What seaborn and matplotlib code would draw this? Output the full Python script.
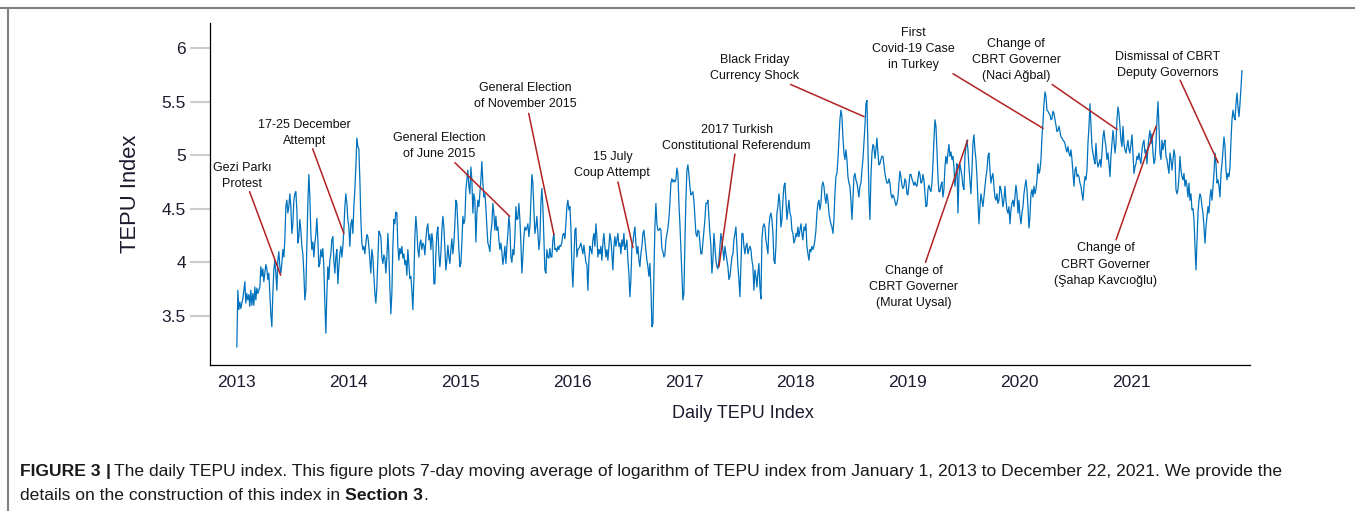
import pandas as pd
import matplotlib
matplotlib.use("Agg")
import matplotlib.pyplot as plt
from matplotlib.lines import Line2D
import seaborn as sns

# log TEPU index (7-day moving average), every ~3.3 days
tepu_p1 = [3.21, 3.74, 3.56, 3.63, 3.57, 3.62, 3.66, 3.74, 3.82, 3.62,
           3.71, 3.65, 3.70, 3.59, 3.74, 3.60, 3.71, 3.60, 3.77, 3.65,
           3.76, 3.71, 3.74, 3.77, 3.96, 3.87, 3.94, 3.82, 3.90, 3.98,
           3.94, 3.84, 3.90, 3.71, 3.52, 3.40, 3.71, 3.93, 4.02, 3.90,
           3.74, 4.02, 4.10, 3.96, 3.90, 3.99, 4.12, 4.05, 4.21, 4.52,
           4.58, 4.46, 4.52, 4.64, 4.52, 4.27, 4.36, 4.58, 4.64, 4.66,
           4.49, 4.18, 4.24, 4.40, 4.30, 4.15, 4.08, 3.90, 3.65, 3.74,
           4.15, 4.55, 4.82, 4.61, 4.27, 4.12, 4.19, 4.05, 4.18, 4.26,
           4.41, 4.21, 3.96, 3.99, 4.12, 4.05, 4.13, 3.96, 3.62, 3.34,
           3.71, 3.96, 3.84, 4.02, 4.08, 4.21, 4.24, 4.02, 3.90, 4.05,
           4.12, 3.80, 3.96, 4.08, 4.15, 4.05, 4.15, 4.30, 4.52, 4.64, 4.55]
tepu_p2 = [4.40, 4.33, 4.15, 4.36, 4.40, 4.27, 4.52, 4.68, 4.89, 5.16,
           5.08, 5.06, 4.77, 4.40, 4.18, 4.12, 4.15, 4.08, 4.18, 4.26,
           4.24, 4.15, 4.02, 3.90, 4.12, 4.05, 3.87, 3.71, 3.62, 3.77,
           4.02, 4.29, 4.27, 4.24, 4.05, 3.99, 4.07, 4.04, 3.90, 4.05,
           4.27, 4.08, 3.77, 3.52, 3.71, 4.15, 4.40, 4.36, 4.47, 4.46,
           4.15, 4.02, 4.13, 4.08, 4.15, 4.04, 4.08, 3.98, 4.02, 3.88,
           4.12, 3.99, 3.85, 3.87, 3.74, 3.56, 3.84, 4.24, 4.43, 4.30,
           4.12, 4.05, 4.18, 4.21, 4.12, 4.18, 4.16, 4.07, 4.21, 4.32,
           4.36, 4.21, 4.26, 4.12, 4.27, 4.19, 3.80, 3.80, 4.08, 4.27,
           4.33, 4.08, 3.96, 4.08, 4.30, 4.43, 4.33, 4.12, 3.93, 4.02,
           4.16, 4.05, 3.99, 4.12, 4.22, 4.08, 4.18, 4.36, 4.58, 4.55,
           4.33, 4.12, 3.96, 3.99, 4.18, 4.43, 4.36, 4.40, 4.68, 4.77]
tepu_p3 = [4.86, 4.71, 4.64, 4.89, 4.77, 4.46, 4.64, 4.58, 4.19, 4.46,
           4.58, 4.52, 4.64, 4.77, 4.94, 4.74, 4.61, 4.64, 4.52, 4.33,
           4.18, 4.15, 4.10, 4.27, 4.36, 4.55, 4.46, 4.30, 4.43, 4.30,
           4.33, 4.21, 4.12, 4.18, 4.10, 3.98, 4.05, 4.15, 3.99, 4.15,
           4.27, 4.43, 4.33, 4.05, 4.00, 4.12, 4.07, 4.24, 4.52, 4.40,
           4.41, 4.55, 4.40, 4.18, 3.90, 4.05, 4.24, 4.33, 4.30, 4.32,
           4.36, 4.24, 4.33, 4.58, 4.82, 4.74, 4.49, 4.27, 4.33, 4.43,
           4.27, 4.12, 4.21, 4.55, 4.69, 4.52, 4.24, 3.93, 3.90, 4.12,
           4.05, 4.04, 4.13, 4.05, 4.05, 4.21, 4.27, 4.12, 4.13, 4.10,
           4.15, 4.12, 4.16, 4.15, 4.19, 4.26, 4.27, 4.22, 4.36, 4.52,
           4.58, 4.49, 4.52, 4.33, 3.96, 3.77, 4.02, 4.30, 4.32, 4.05,
           4.12, 4.13, 4.15, 4.18, 4.13, 4.08, 4.16, 4.08, 4.00, 3.98]
tepu_p4 = [3.74, 4.02, 4.15, 4.12, 4.08, 4.21, 4.27, 4.15, 4.36, 4.24,
           4.05, 4.12, 4.08, 4.15, 4.02, 4.18, 4.27, 4.15, 4.05, 4.12,
           4.02, 4.15, 4.27, 4.21, 4.08, 3.93, 4.15, 4.24, 4.15, 4.21,
           4.27, 4.15, 4.18, 4.08, 4.21, 4.15, 4.27, 4.12, 4.15, 4.21,
           4.02, 3.90, 3.68, 3.84, 4.15, 4.18, 4.27, 4.33, 4.18, 4.08,
           4.15, 4.02, 3.96, 4.08, 4.15, 4.27, 4.30, 4.21, 4.12, 4.02,
           3.96, 3.87, 3.99, 3.77, 3.40, 3.43, 3.87, 4.33, 4.55, 4.36,
           4.30, 4.30, 4.32, 4.30, 4.13, 4.10, 4.05, 4.07, 4.21, 4.26,
           4.32, 4.41, 4.55, 4.74, 4.78, 4.75, 4.77, 4.75, 4.77, 4.88,
           4.83, 4.55, 4.36, 4.12, 3.87, 3.65, 3.71, 4.18, 4.58, 4.86,
           4.91, 4.82, 4.71, 4.63, 4.64, 4.66, 4.58, 4.43, 4.27, 4.24,
           4.30, 4.29, 4.18, 4.08, 4.08, 4.19, 4.30, 4.40, 4.55, 4.55]
tepu_p5 = [4.58, 4.43, 4.27, 4.15, 3.90, 4.02, 4.27, 4.15, 4.02, 3.96,
           3.94, 4.02, 4.15, 4.27, 4.21, 4.12, 4.02, 4.15, 4.08, 4.02,
           3.96, 3.84, 3.87, 3.96, 4.05, 4.08, 4.21, 4.27, 4.33, 4.15,
           3.96, 3.84, 3.68, 3.96, 4.27, 4.27, 4.15, 4.08, 4.15, 4.18,
           4.08, 4.12, 4.15, 4.12, 4.02, 3.96, 3.74, 3.93, 3.87, 3.77,
           3.90, 3.99, 3.77, 3.66, 4.21, 4.33, 4.36, 4.33, 4.21, 4.15,
           4.08, 4.33, 4.43, 4.46, 4.40, 4.27, 4.02, 3.99, 4.15, 4.46,
           4.52, 4.64, 4.55, 4.33, 4.40, 4.58, 4.71, 4.74, 4.58, 4.40,
           4.49, 4.58, 4.46, 4.43, 4.30, 4.27, 4.18, 4.21, 4.27, 4.24,
           4.33, 4.24, 4.30, 4.36, 4.27, 4.21, 4.33, 4.30, 4.36, 4.15,
           4.08, 4.02, 4.12, 4.10, 4.15, 4.12, 4.15, 4.21, 4.30, 4.46,
           4.55, 4.58, 4.49, 4.55, 4.71, 4.75, 4.71, 4.61, 4.55, 4.64]
tepu_p6 = [4.58, 4.46, 4.40, 4.36, 4.33, 4.27, 4.40, 4.64, 4.80, 4.83,
           4.96, 5.14, 5.33, 5.42, 5.36, 5.17, 5.02, 4.96, 5.05, 4.96,
           4.80, 4.74, 4.71, 4.58, 4.40, 4.58, 4.80, 4.83, 4.77, 4.74,
           4.68, 4.61, 4.71, 4.74, 4.86, 4.96, 5.11, 5.27, 5.48, 5.51,
           5.08, 4.64, 4.40, 4.80, 5.02, 5.10, 5.08, 4.97, 5.05, 5.16,
           5.02, 4.91, 4.92, 4.96, 4.99, 4.99, 4.91, 4.83, 4.78, 4.74,
           4.74, 4.78, 4.74, 4.64, 4.60, 4.63, 4.61, 4.57, 4.53, 4.55,
           4.61, 4.74, 4.85, 4.80, 4.72, 4.69, 4.71, 4.78, 4.75, 4.64,
           4.63, 4.72, 4.82, 4.82, 4.78, 4.75, 4.72, 4.75, 4.72, 4.71,
           4.78, 4.85, 4.82, 4.74, 4.75, 4.82, 4.77, 4.64, 4.52, 4.53,
           4.68, 4.72, 4.68, 4.66, 4.74, 4.92, 5.14, 5.33, 5.27, 5.05,
           4.80, 4.66, 4.66, 4.72, 4.75, 4.61, 4.68, 4.89, 4.99, 4.92]
tepu_p7 = [5.02, 5.10, 4.99, 5.03, 4.96, 4.99, 4.89, 4.71, 4.83, 4.92,
           4.46, 4.80, 4.92, 4.86, 4.80, 4.71, 4.68, 4.99, 5.08, 5.14,
           5.05, 4.89, 4.77, 4.64, 4.86, 5.11, 5.19, 5.05, 4.96, 4.80,
           4.58, 4.36, 4.52, 4.64, 4.58, 4.52, 4.61, 4.71, 4.80, 4.86,
           4.99, 5.02, 4.86, 4.74, 4.80, 4.83, 4.71, 4.61, 4.58, 4.64,
           4.55, 4.58, 4.71, 4.68, 4.61, 4.52, 4.58, 4.71, 4.58, 4.49,
           4.46, 4.52, 4.36, 4.49, 4.55, 4.58, 4.52, 4.61, 4.72, 4.64,
           4.46, 4.58, 4.43, 4.36, 4.46, 4.52, 4.64, 4.71, 4.77, 4.68,
           4.52, 4.32, 4.43, 4.64, 4.68, 4.61, 4.71, 4.64, 4.68, 4.77,
           4.92, 4.83, 4.86, 4.96, 5.17, 5.30, 5.48, 5.59, 5.55, 5.42,
           5.41, 5.39, 5.38, 5.33, 5.34, 5.41, 5.39, 5.33, 5.28, 5.22,
           5.23, 5.27, 5.22, 5.17, 5.16, 5.14, 5.13, 5.11, 5.06, 5.03]
tepu_p8 = [5.08, 5.02, 4.99, 5.05, 4.96, 4.83, 4.71, 4.86, 4.89, 4.80,
           4.82, 4.80, 4.74, 4.71, 4.64, 4.58, 4.71, 4.80, 4.77, 4.86,
           5.11, 5.27, 5.48, 5.27, 5.08, 5.02, 4.96, 4.92, 5.11, 4.96,
           4.89, 4.92, 4.96, 4.89, 5.02, 5.17, 5.23, 5.14, 5.08, 4.96,
           5.02, 4.92, 4.80, 4.99, 5.11, 5.23, 5.14, 5.02, 5.11, 5.33,
           5.45, 5.39, 5.27, 5.14, 5.08, 5.27, 5.11, 5.05, 5.02, 5.08,
           5.14, 5.05, 5.02, 5.11, 5.19, 5.02, 4.83, 4.89, 4.92, 4.99,
           4.96, 5.02, 4.96, 4.92, 5.05, 5.11, 5.14, 5.02, 5.05, 4.92,
           5.08, 5.17, 5.23, 5.11, 5.20, 5.02, 4.92, 4.96, 5.11, 5.33,
           5.50, 5.27, 5.02, 4.96, 5.14, 5.05, 5.11, 5.14, 4.99, 4.96,
           4.89, 4.83, 5.02, 4.96, 4.86, 4.96, 5.05, 4.99, 4.68, 4.64,
           4.68, 4.80, 4.99, 4.86, 4.80, 4.77, 4.83, 4.71, 4.77, 4.71,
           4.61, 4.74, 4.58, 4.64, 4.49]
tepu_p9 = [4.50, 4.40, 4.15, 3.93, 4.21, 4.46, 4.58, 4.64, 4.61, 4.52,
           4.46, 4.33, 4.18, 4.33, 4.43, 4.52, 4.46, 4.61, 4.68, 4.58,
           4.71, 4.83, 5.02, 4.92, 4.74, 4.77, 4.71, 4.61, 4.83, 4.92,
           5.05, 5.17, 5.08, 4.86, 4.77, 4.83, 4.80, 4.89, 5.14, 5.33,
           5.42, 5.36, 5.33, 5.48, 5.58, 5.45, 5.36, 5.48, 5.64, 5.79]
first_day, last_day = "2013-01-01", "2021-12-28"

years = list(range(2013, 2022))
y_ticks = [3.5, 4, 4.5, 5, 5.5, 6]
y_tick_labels = ["3.5", "4", "4.5", "5", "5.5", "6"]

event_labels = [
    "Gezi Parkı\nProtest",
    "17-25 December\nAttempt",
    "General Election\nof June 2015",
    "General Election\nof November 2015",
    "15 July\nCoup Attempt",
    "2017 Turkish\nConstitutional Referendum",
    "Black Friday\nCurrency Shock",
    "First\nCovid-19 Case\nin Turkey",
    "Change of\nCBRT Governer\n(Naci Ağbal)",
    "Dismissal of CBRT\nDeputy Governors",
    "Change of\nCBRT Governer\n(Murat Uysal)",
    "Change of\nCBRT Governer\n(Şahap Kavcıoğlu)",
]
# label centre, line start, line tip  (decimal year, index value)
event_layout = [
    ((2013.045, 4.81), (2013.114, 4.66), (2013.392, 3.88)),
    ((2013.602, 5.21), (2013.678, 5.06), (2013.957, 4.27)),
    ((2014.807, 5.09), (2014.950, 4.93), (2015.440, 4.43)),
    ((2015.576, 5.55), (2015.610, 5.39), (2015.835, 4.26)),
    ((2016.358, 4.91), (2016.408, 4.75), (2016.542, 4.14)),
    ((2017.470, 5.16), (2017.454, 5.01), (2017.311, 3.96)),
    ((2017.631, 5.81), (2017.952, 5.66), (2018.608, 5.36)),
    ((2019.046, 5.99), (2019.404, 5.76), (2020.210, 5.25)),
    ((2019.968, 5.89), (2020.290, 5.66), (2020.871, 5.24)),
    ((2021.327, 5.84), (2021.435, 5.70), (2021.775, 4.93)),
    ((2019.055, 3.77), (2019.158, 4.00), (2019.535, 5.14)),
    ((2020.770, 3.98), (2020.862, 4.21), (2021.220, 5.27)),
]

caption_1 = [("FIGURE 3", "bold", 0.28), ("|", "bold", 0.2),
             ("The daily TEPU index. This figure plots 7-day moving average of logarithm "
              "of TEPU index from January 1, 2013 to December 22, 2021. We provide the", "normal", 0)]
caption_2 = [("details on the construction of this index in", "normal", 0.28),
             ("Section 3", "bold", 0), (".", "normal", 0)]


def yr(x):
    return pd.Timestamp("2013-01-01") + pd.Timedelta(days=(x - 2013) * 365.25)


tepu = (tepu_p1 + tepu_p2 + tepu_p3 + tepu_p4 + tepu_p5 + tepu_p6
        + tepu_p7 + tepu_p8 + tepu_p9)
df = pd.DataFrame({"date": pd.date_range(first_day, last_day, periods=len(tepu)),
                   "tepu": tepu})

sns.set_theme(style="white")
plt.rcParams["font.family"] = ["Liberation Sans", "DejaVu Sans"]

W, H = 1355, 511
fig = plt.figure(figsize=(W / 100, H / 100), dpi=100)
ax = fig.add_axes([210 / W, 1 - 365 / H, 1040 / W, 342 / H])

sns.lineplot(data=df, x="date", y="tepu", ax=ax, color="#0072BD",
             linewidth=0.9, estimator=None, sort=False)

navy = "#1c1c30"
ax.set_xlim(yr(2012.76), yr(2022.06))
ax.set_ylim(3.043, 6.233)
ax.set_xticks([pd.Timestamp(f"{y}-01-01") for y in years])
ax.set_xticklabels([str(y) for y in years])
ax.set_yticks(y_ticks)
ax.set_yticklabels(y_tick_labels)
ax.tick_params(axis="y", direction="out", length=14.4, width=1.5, color="#cccccc",
               pad=3, labelsize=12.5, labelcolor=navy, left=True)
ax.tick_params(axis="x", length=0, pad=7, labelsize=12.5, labelcolor=navy)
sns.despine(ax=ax)
for s in ["left", "bottom"]:
    ax.spines[s].set_color("black")
    ax.spines[s].set_linewidth(0.9)

ax.set_ylabel("TEPU Index", fontsize=15.8, color=navy)
ax.yaxis.label.set_va("center")
ax.yaxis.set_label_coords(-80 / 1040, 0.5)
ax.set_xlabel("Daily TEPU Index", fontsize=13, color=navy)
ax.xaxis.label.set_va("center")
ax.xaxis.set_label_coords(533 / 1040, -48 / 342)

for label, (txt, start, tip) in zip(event_labels, event_layout):
    ax.text(yr(txt[0]), txt[1], label, ha="center", va="center", fontsize=9,
            color="#111111", linespacing=1.45)
    ax.annotate("", xy=(yr(tip[0]), tip[1]), xytext=(yr(start[0]), start[1]),
                arrowprops=dict(arrowstyle="-", color="#b22222", lw=1.1,
                                shrinkA=0, shrinkB=0))

# frame lines of the page
fig.add_artist(Line2D([0, 1], [1 - 8 / H] * 2, transform=fig.transFigure,
                      color="#808080", lw=1.5))
fig.add_artist(Line2D([8 / W] * 2, [0, 1 - 8 / H], transform=fig.transFigure,
                      color="#808080", lw=1.5))

# caption, written run by run so the bold parts sit inline
renderer = fig.canvas.get_renderer()
cap_size = 12.6


def write_runs(runs, baseline_px):
    x = 20
    for text, weight, gap in runs:
        t = fig.text(x / W, 1 - baseline_px / H, text, fontsize=cap_size,
                     fontweight=weight, color="#1a1a1a", ha="left", va="baseline")
        x = t.get_window_extent(renderer).x1 + gap * cap_size * 100 / 72


write_runs(caption_1, 476)
write_runs(caption_2, 500)

fig.savefig("out.png", dpi=100)
